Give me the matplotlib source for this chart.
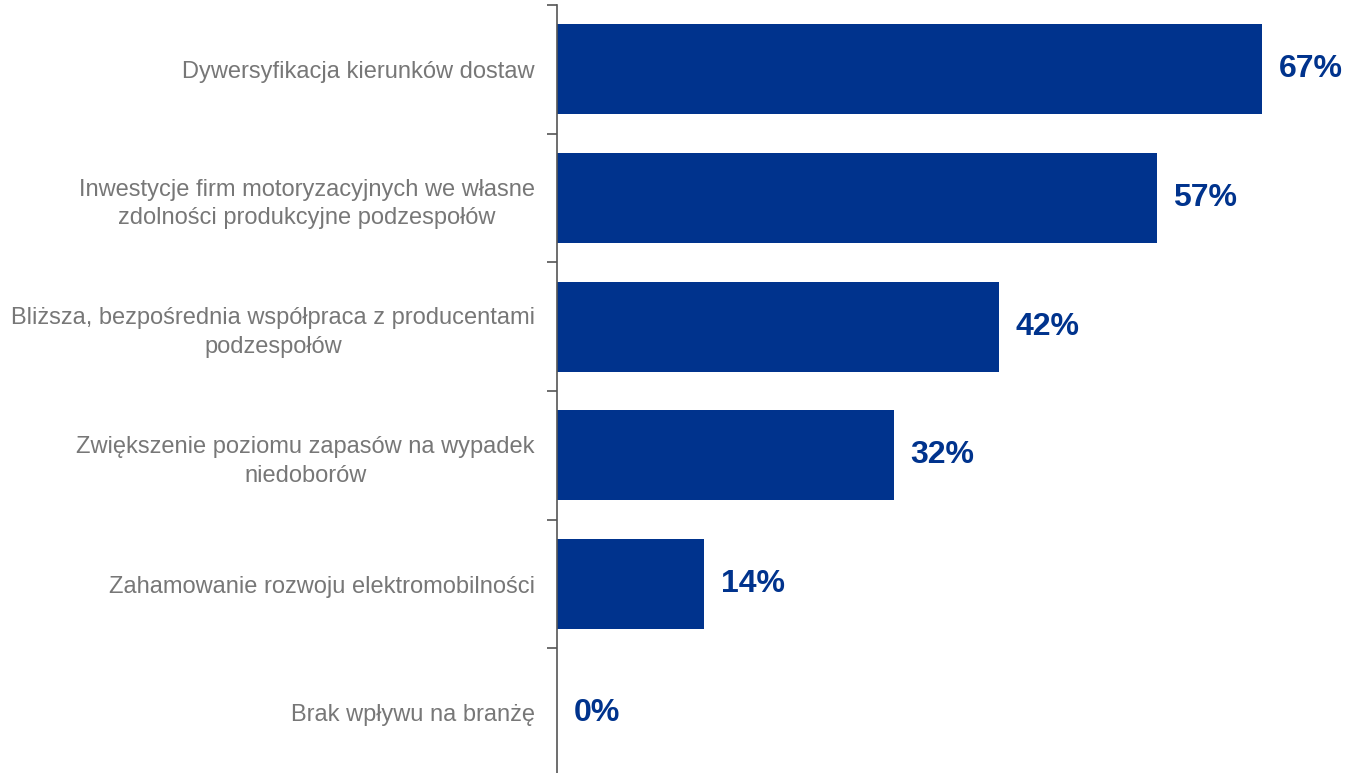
import matplotlib
matplotlib.use("Agg")
import matplotlib.pyplot as plt
import numpy as np

categories = [
    "Dywersyfikacja kierunków dostaw",
    "Inwestycje firm motoryzacyjnych we własne\nzdolności produkcyjne podzespołów",
    "Bliższa, bezpośrednia współpraca z producentami\npodzespołów",
    "Zwiększenie poziomu zapasów na wypadek\nniedoborów",
    "Zahamowanie rozwoju elektromobilności",
    "Brak wpływu na branżę",
]
values = [67, 57, 42, 32, 14, 0]

plt.rcParams['font.family'] = ['Liberation Sans', 'DejaVu Sans']

W, H = 1346, 773
fig = plt.figure(figsize=(W/100, H/100), dpi=100)
left = 557 / W
bottom_px = 777
ax = fig.add_axes([left, 1 - bottom_px / H, 1 - left, (bottom_px - 5) / H])

bar_color = "#00338D"
y = np.arange(len(categories))
ax.barh(y, values, height=0.7, color=bar_color, zorder=2)
ax.set_ylim(len(categories) - 0.5, -0.5)
ax.set_xlim(0, 75)

for yi, v in zip(y, values):
    ax.text(v + 1.6, yi, f"{v}%", va="center", ha="left", fontsize=23,
            fontweight="bold", color=bar_color)

ax.set_yticks(y)
ax.set_yticklabels(categories, fontsize=17, color="#777777", linespacing=1.4)
for lab in ax.get_yticklabels():
    lab.set_horizontalalignment("right")
    lab.set_multialignment("center")
ax.tick_params(axis="y", which="major", length=0, pad=16)
ax.set_yticks(np.arange(-0.5, len(categories) + 0.5, 1), minor=True)
ax.tick_params(axis="y", which="minor", length=7, width=1.2, color="#555555", direction="out")

ax.set_xticks([])
for s in ["top", "right", "bottom"]:
    ax.spines[s].set_visible(False)
ax.spines["left"].set_color("#555555")
ax.spines["left"].set_linewidth(1.2)

fig.savefig("out.png", dpi=100)
